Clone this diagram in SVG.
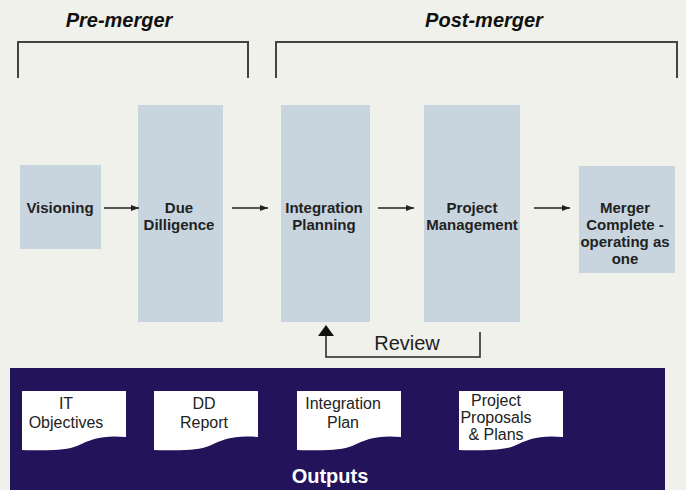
<svg xmlns="http://www.w3.org/2000/svg" width="686" height="490" viewBox="0 0 686 490">
<defs>
<marker id="ah" markerWidth="8" markerHeight="6" refX="8" refY="3" orient="auto" markerUnits="userSpaceOnUse">
<path d="M0,0 L8,3 L0,6 Z" fill="#222"/>
</marker>
<path id="doc" d="M0,0 H104 V46 C80,44 70,48 55,55 C45,59 30,60 0,59 Z"/>
</defs>
<style>
.box{fill:#c8d5df}
.lbl{font-family:"Liberation Sans",Arial,sans-serif;font-weight:bold;font-size:15px;fill:#222;text-anchor:middle}
.hdr{font-family:"Liberation Sans",Arial,sans-serif;font-weight:bold;font-style:italic;font-size:20px;fill:#111;text-anchor:middle}
.brk{fill:none;stroke:#444;stroke-width:2}
.con{fill:none;stroke:#222;stroke-width:1.5}
.doctext{font-family:"Liberation Sans",Arial,sans-serif;font-size:16px;fill:#222;text-anchor:middle}
.docshape{fill:#fff}
</style>
<rect width="686" height="490" fill="#f0f1eb"/>
<g id="headers">
<text class="hdr" x="119" y="27">Pre-merger</text>
<text class="hdr" x="484" y="27">Post-merger</text>
<path class="brk" d="M18,78 V42 H248 V78"/>
<path class="brk" d="M276,78 V42 H677 V78"/>
</g>
<g id="visioning">
<rect class="box" x="20" y="165" width="81" height="84"/>
<text class="lbl" x="60" y="213">Visioning</text>
</g>
<g id="due-diligence">
<rect class="box" x="138" y="105" width="85" height="217"/>
<text class="lbl" x="179" y="213">Due</text>
<text class="lbl" x="179" y="230">Dilligence</text>
</g>
<g id="integration-planning">
<rect class="box" x="281" y="105" width="89" height="217"/>
<text class="lbl" x="324" y="213">Integration</text>
<text class="lbl" x="324" y="230">Planning</text>
</g>
<g id="project-management">
<rect class="box" x="424" y="105" width="96" height="217"/>
<text class="lbl" x="472" y="213">Project</text>
<text class="lbl" x="472" y="230">Management</text>
</g>
<g id="merger-complete">
<rect class="box" x="579" y="166" width="96" height="107"/>
<text class="lbl" x="625" y="213">Merger</text>
<text class="lbl" x="625" y="230">Complete -</text>
<text class="lbl" x="625" y="247">operating as</text>
<text class="lbl" x="625" y="264">one</text>
</g>
<g id="connectors">
<line class="con" x1="104" y1="208" x2="139" y2="208" marker-end="url(#ah)"/>
<line class="con" x1="232" y1="208" x2="268" y2="208" marker-end="url(#ah)"/>
<line class="con" x1="378" y1="208" x2="414" y2="208" marker-end="url(#ah)"/>
<line class="con" x1="534" y1="208" x2="570" y2="208" marker-end="url(#ah)"/>
<path class="con" d="M480,332 V357 H326 V336"/>
<path d="M318,336 L326,325 L334,336 Z" fill="#111"/>
<text x="407" y="350" font-family="'Liberation Sans',Arial,sans-serif" font-size="20" fill="#222" text-anchor="middle">Review</text>
</g>
<g id="outputs">
<rect x="10" y="368" width="655" height="122" fill="#22135a"/>
<text x="330" y="483" font-family="'Liberation Sans',Arial,sans-serif" font-weight="bold" font-size="20" fill="#fff" text-anchor="middle">Outputs</text>
</g>
<g id="doc-it">
<use href="#doc" class="docshape" x="22" y="391"/>
<text class="doctext" x="66" y="409">IT</text>
<text class="doctext" x="66" y="428">Objectives</text>
</g>
<g id="doc-dd">
<use href="#doc" class="docshape" x="154" y="391"/>
<text class="doctext" x="204" y="409">DD</text>
<text class="doctext" x="204" y="428">Report</text>
</g>
<g id="doc-ip">
<use href="#doc" class="docshape" x="297" y="391"/>
<text class="doctext" x="343" y="409">Integration</text>
<text class="doctext" x="343" y="428">Plan</text>
</g>
<g id="doc-pp">
<use href="#doc" class="docshape" x="459" y="391"/>
<text class="doctext" x="496" y="406">Project</text>
<text class="doctext" x="496" y="423">Proposals</text>
<text class="doctext" x="496" y="440">&amp; Plans</text>
</g>
</svg>
